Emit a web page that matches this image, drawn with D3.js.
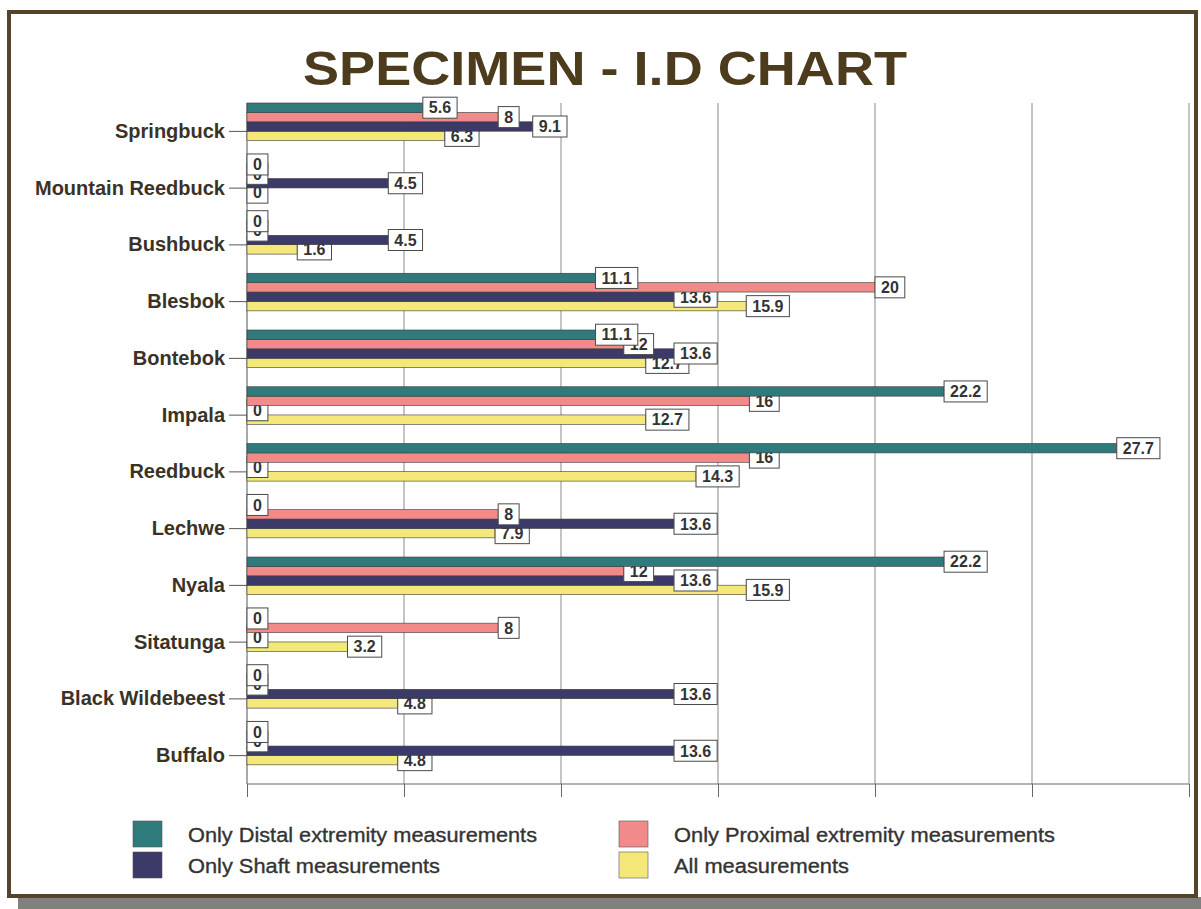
<!DOCTYPE html>
<html>
<head>
<meta charset="utf-8">
<script src="https://cdn.jsdelivr.net/npm/d3@7"></script>
<style>
  html, body { margin: 0; padding: 0; background: #ffffff; }
  svg { display: block; }
</style>
</head>
<body>
<svg id="chart" width="1201" height="909"></svg>
<script>
// Specimen identification counts per taxon, by measurement type
const categories = ["Springbuck", "Mountain Reedbuck", "Bushbuck", "Blesbok", "Bontebok", "Impala",
  "Reedbuck", "Lechwe", "Nyala", "Sitatunga", "Black Wildebeest", "Buffalo"];
const seriesNames = ["Only Distal extremity measurements", "Only Proximal extremity measurements",
  "Only Shaft measurements", "All measurements"];
const distalValues   = [5.6, 0, 0, 11.1, 11.1, 22.2, 27.7, 0, 22.2, 0, 0, 0];
const proximalValues = [8, 0, 0, 20, 12, 16, 16, 8, 12, 8, 0, 0];
const shaftValues    = [9.1, 4.5, 4.5, 13.6, 13.6, 0, 0, 13.6, 13.6, 0, 13.6, 13.6];
const allValues      = [6.3, 0, 1.6, 15.9, 12.7, 12.7, 14.3, 7.9, 15.9, 3.2, 4.8, 4.8];
const xTickValues    = [0, 5, 10, 15, 20, 25, 30];
const seriesColors   = ["#2f7b7c", "#f28a8a", "#3c3a69", "#f4e87a"];

const seriesValues = [distalValues, proximalValues, shaftValues, allValues];

const svg = d3.select("#chart");

// Outer frame with a drop shadow along the bottom
svg.append("rect").attr("x", 18).attr("y", 897).attr("width", 1183).attr("height", 12).attr("fill", "#808080");
svg.append("rect").attr("x", 9).attr("y", 12).attr("width", 1187).attr("height", 884)
  .attr("fill", "#ffffff").attr("stroke", "#54442a").attr("stroke-width", 4);

// Title
svg.append("text")
  .attr("x", 303).attr("y", 85)
  .attr("textLength", 604).attr("lengthAdjust", "spacingAndGlyphs")
  .attr("font-family", "Liberation Sans, Arial, sans-serif")
  .attr("font-weight", "bold").attr("font-size", 49)
  .attr("fill", "#4d3b1e")
  .text("SPECIMEN - I.D CHART");

const plotTop = 103, plotBottom = 784;
const x = d3.scaleLinear().domain([0, 30]).range([247, 1189]);
const y = d3.scaleBand().domain(categories).range([plotTop, plotBottom]).padding(0);
const inner = d3.scaleBand().domain(d3.range(seriesNames.length)).range([0, 37.6]).padding(0);

// Vertical gridlines
svg.append("g").selectAll("line")
  .data(xTickValues.slice(1))
  .join("line")
  .attr("x1", d => x(d)).attr("x2", d => x(d))
  .attr("y1", plotTop).attr("y2", plotBottom)
  .attr("stroke", "#8a8a8a").attr("stroke-width", 1);

// Bottom axis: line and tick marks, no labels
const xAxis = d3.axisBottom(x).tickValues(xTickValues).tickSize(13).tickFormat("");
const gx = svg.append("g").attr("transform", `translate(0,${plotBottom})`).call(xAxis);
gx.select(".domain").attr("stroke", "#666").attr("d", `M${x(0)},0H${x(30)}`);
gx.selectAll(".tick line").attr("stroke", "#666");

// Left axis with category names
const yAxis = d3.axisLeft(y).tickSize(18).tickPadding(4);
const gy = svg.append("g").attr("transform", `translate(${x(0)},0)`).call(yAxis);
gy.select(".domain").attr("stroke", "#555").attr("d", `M0,${plotTop}V${plotBottom}`);
gy.selectAll(".tick line").attr("stroke", "#555");
gy.selectAll(".tick text")
  .attr("font-family", "Liberation Sans, Arial, sans-serif")
  .attr("font-weight", "bold").attr("font-size", 20)
  .attr("fill", "#3b3226");

// Bars and value labels, drawn from the last series to the first so earlier series sit on top
const layers = svg.append("g");
for (let s = seriesNames.length - 1; s >= 0; s--) {
  const data = categories.map((c, i) => ({ cat: c, value: seriesValues[s][i] }));
  const g = layers.append("g");
  g.selectAll("rect.bar")
    .data(data.filter(d => d.value > 0))
    .join("rect")
    .attr("class", "bar")
    .attr("x", x(0))
    .attr("y", d => y(d.cat) + inner(s))
    .attr("width", d => x(d.value) - x(0))
    .attr("height", inner.bandwidth())
    .attr("fill", seriesColors[s])
    .attr("stroke", "#3a3a3a").attr("stroke-width", 0.6);

  const labels = g.selectAll("g.lbl")
    .data(data)
    .join("g")
    .attr("class", "lbl")
    .attr("transform", d => `translate(${x(d.value)},${y(d.cat) + inner(s) + inner.bandwidth() / 2})`);
  labels.append("rect")
    .attr("fill", "#ffffff").attr("stroke", "#4a4a4a").attr("stroke-width", 1);
  const texts = labels.append("text")
    .attr("font-family", "Liberation Sans, Arial, sans-serif")
    .attr("font-weight", "bold").attr("font-size", 16)
    .attr("fill", "#333333")
    .attr("dy", "0.36em")
    .attr("x", 6)
    .text(d => d3.format("~g")(d.value));
  texts.each(function () {
    const w = this.getComputedTextLength();
    d3.select(this.parentNode).select("rect")
      .attr("x", 0).attr("y", -10.5)
      .attr("width", w + 12).attr("height", 21);
  });
}

// Legend in two columns
const legend = svg.append("g");
const legendItems = [
  { s: 0, x: 133, y: 821, w: 349 }, { s: 2, x: 133, y: 852, w: 252 },
  { s: 1, x: 619, y: 821, w: 381 }, { s: 3, x: 619, y: 852, w: 175 }
];
legendItems.forEach(it => {
  legend.append("rect")
    .attr("x", it.x).attr("y", it.y).attr("width", 29).attr("height", 26)
    .attr("fill", seriesColors[it.s]).attr("stroke", "#555").attr("stroke-width", 0.6);
  legend.append("text")
    .attr("x", it.x + 55).attr("y", it.y + 21)
    .attr("textLength", it.w).attr("lengthAdjust", "spacingAndGlyphs")
    .attr("font-family", "Liberation Sans, Arial, sans-serif")
    .attr("font-size", 20.5)
    .attr("fill", "#333333").attr("stroke", "#333333").attr("stroke-width", 0.35)
    .text(seriesNames[it.s]);
});
</script>
</body>
</html>
